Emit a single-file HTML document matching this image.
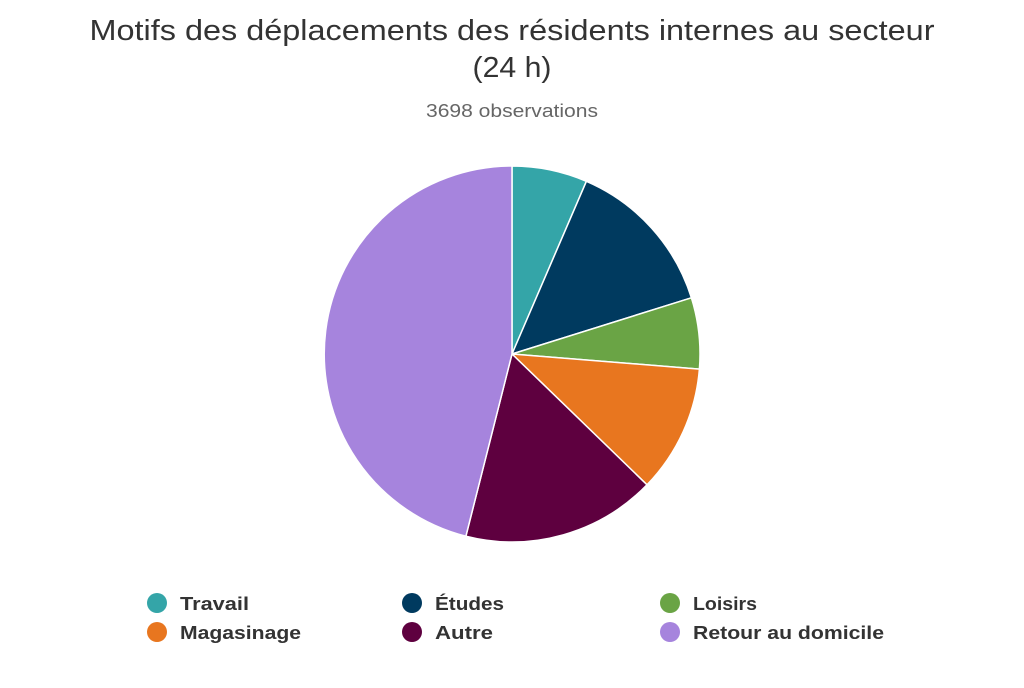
<!DOCTYPE html>
<html><head><meta charset="utf-8"><style>
body{margin:0;background:#fff;}
svg text{font-family:"Liberation Sans",sans-serif;}
</style></head><body>
<svg width="1024" height="683" xmlns="http://www.w3.org/2000/svg">
<rect width="1024" height="683" fill="#fff"/>
<text x="512" y="40" text-anchor="middle" font-size="29" fill="#333" textLength="845" lengthAdjust="spacingAndGlyphs">Motifs des déplacements des résidents internes au secteur</text>
<text x="512" y="77" text-anchor="middle" font-size="29" fill="#333" textLength="79" lengthAdjust="spacingAndGlyphs">(24 h)</text>
<text x="512" y="117" text-anchor="middle" font-size="18" fill="#666" textLength="172" lengthAdjust="spacingAndGlyphs">3698 observations</text>
<g stroke="#fff" stroke-width="1.5" stroke-linejoin="round">
<path d="M512,354 L512,166 A188,188 0 0 1 586.4,181.3 Z" fill="#34a5a8"/>
<path d="M512,354 L586.4,181.3 A188,188 0 0 1 691.4,297.8 Z" fill="#003a5f"/>
<path d="M512,354 L691.4,297.8 A188,188 0 0 1 699.4,369.1 Z" fill="#6aa445"/>
<path d="M512,354 L699.4,369.1 A188,188 0 0 1 647.0,484.8 Z" fill="#e8761f"/>
<path d="M512,354 L647.0,484.8 A188,188 0 0 1 465.9,536.2 Z" fill="#5e003f"/>
<path d="M512,354 L465.9,536.2 A188,188 0 0 1 512,166 Z" fill="#a684dd"/>
</g>
<g font-size="18" font-weight="bold" fill="#333" lengthAdjust="spacingAndGlyphs">
<circle cx="157" cy="603" r="10" fill="#34a5a8"/><text x="180" y="610" textLength="69" lengthAdjust="spacingAndGlyphs">Travail</text>
<circle cx="412" cy="603" r="10" fill="#003a5f"/><text x="435" y="610" textLength="69" lengthAdjust="spacingAndGlyphs">Études</text>
<circle cx="670" cy="603" r="10" fill="#6aa445"/><text x="693" y="610" textLength="64" lengthAdjust="spacingAndGlyphs">Loisirs</text>
<circle cx="157" cy="632" r="10" fill="#e8761f"/><text x="180" y="639" textLength="121" lengthAdjust="spacingAndGlyphs">Magasinage</text>
<circle cx="412" cy="632" r="10" fill="#5e003f"/><text x="435" y="639" textLength="58" lengthAdjust="spacingAndGlyphs">Autre</text>
<circle cx="670" cy="632" r="10" fill="#a684dd"/><text x="693" y="639" textLength="191" lengthAdjust="spacingAndGlyphs">Retour au domicile</text>
</g>
</svg>
</body></html>
